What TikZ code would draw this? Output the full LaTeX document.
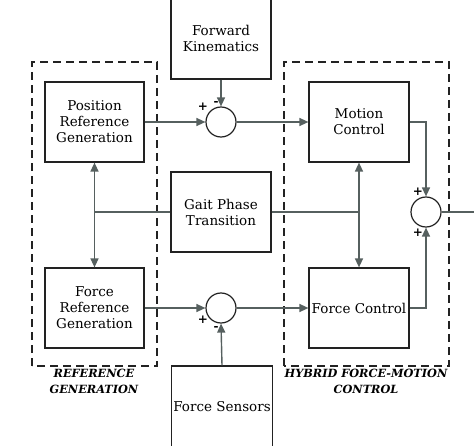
\documentclass[tikz,border=0pt]{standalone}
\usepackage{fontspec}
\setmainfont{DejaVu Serif}
\usetikzlibrary{arrows.meta}
\definecolor{wiregray}{HTML}{56605F}
\definecolor{ink}{HTML}{222222}
\tikzset{block/.style = {draw=ink, line width=1.2pt, minimum width=100pt, minimum height=80pt,
    align=center, inner sep=2pt, font=\fontsize{13.5}{16}\selectfont}}
\tikzset{sum/.style = {draw=ink, circle, line width=1.2pt, minimum size=30pt, inner sep=0pt}}
\tikzset{wire/.style = {draw=wiregray, line width=1.4pt}}
\tikzset{arr/.style = {wire, -{Triangle[length=9pt, width=8pt]}}}
\tikzset{group/.style = {draw=ink, line width=1.5pt, dash pattern=on 8pt off 5pt}}
\tikzset{sign/.style = {inner sep=0pt, font=\bfseries\fontsize{12}{12}\selectfont}}
\tikzset{grouplabel/.style = {align=center, inner sep=0pt, font=\bfseries\itshape\fontsize{11.3}{16}\selectfont}}

\begin{document}
\begin{tikzpicture}[x=1pt, y=1pt]
    \useasboundingbox (0,0) rectangle (474,445);
    % groups
    \draw [group] (32,79) rectangle (157,383);
    \draw [group] (284,79) rectangle (449,383);
    \node (reflabel) at (94,64) [grouplabel] {REFERENCE\\GENERATION};
    \node (ctrllabel) at (366,64) [grouplabel] {HYBRID FORCE-MOTION\\CONTROL};
    % blocks
    \node (fk) at (221,407) [block, minimum height=82pt] {Forward\\Kinematics};
    \node (pos) at (94.5,323) [block, minimum width=99pt] {Position\\Reference\\Generation};
    \node (fref) at (94.5,137) [block, minimum width=99pt] {Force\\Reference\\Generation};
    \node (gait) at (221,233) [block] {Gait Phase\\Transition};
    \node (fs) at (222,38) [block, minimum height=82pt] {Force Sensors};
    \node (mc) at (359,323) [block] {Motion\\Control};
    \node (fc) at (359,137) [block] {Force Control};
    % summing junctions
    \node (s1) at (221,323) [sum] {};
    \node (s2) at (221,137) [sum] {};
    \node (s3) at (426,233) [sum] {};
    \node (s1p) at (203,338) [sign] {+};
    \node (s1m) at (216,342) [sign] {-};
    \node (s2p) at (203,125) [sign] {+};
    \node (s2m) at (216,117) [sign] {-};
    \node (s3a) at (418,253) [sign] {+};
    \node (s3b) at (418,212) [sign] {+};
    % connectors
    \draw [arr] (pos.east) -- (s1.west);
    \draw [arr] (fk.south) -- (s1.north);
    \draw [arr] (s1.east) -- (mc.west);
    \draw [arr] (fref.east) -- (s2.west);
    \draw [arr] (fs.north) -- (s2.south);
    \draw [arr] (s2.east) -- (fc.west);
    \draw [arr] (mc.east) -| (s3.north);
    \draw [arr] (fc.east) -| (s3.south);
    \coordinate (out) at (474,233);
    \draw [wire] (s3.east) -- (out);
    \coordinate (jl) at (pos.south |- gait.west);
    \coordinate (jr) at (mc.south |- gait.east);
    \draw [wire] (gait.west) -- (jl);
    \draw [arr] (jl) -- (pos.south);
    \draw [arr] (jl) -- (fref.north);
    \draw [wire] (gait.east) -- (jr);
    \draw [arr] (jr) -- (mc.south);
    \draw [arr] (jr) -- (fc.north);
\end{tikzpicture}
\end{document}
